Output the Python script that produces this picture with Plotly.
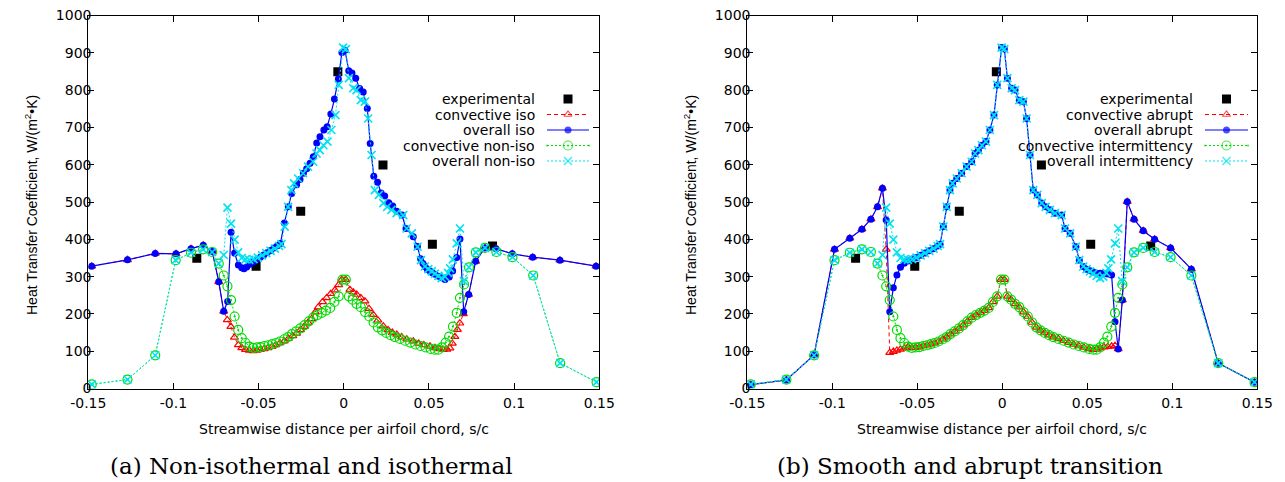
import plotly.graph_objects as go

# ---------------- data (s/c, W/(m^2 K)) ----------------
EXPERIMENTAL = [(-0.0863, 349), (-0.0515, 328), (-0.0253, 475), (-0.0035, 849),
                (0.0230, 599), (0.0520, 387), (0.0873, 382)]

ISO_CONVECTIVE = [(-0.148, 328), (-0.127, 345), (-0.1107, 362), (-0.0985, 361), (-0.0897, 375),
                  (-0.0825, 384), (-0.0772, 367), (-0.0734, 286), (-0.0705, 207), (-0.0684, 184),
                  (-0.0663, 166), (-0.0642, 137), (-0.0619, 117), (-0.0599, 109), (-0.0577, 104),
                  (-0.0555, 102), (-0.0532, 101), (-0.0510, 102), (-0.0490, 104), (-0.0468, 106),
                  (-0.0445, 109), (-0.0422, 112), (-0.0400, 117), (-0.0375, 122), (-0.0350, 127),
                  (-0.0325, 134), (-0.0300, 141), (-0.0277, 148), (-0.0255, 157), (-0.0232, 166),
                  (-0.0210, 177), (-0.0189, 187), (-0.0167, 205), (-0.0150, 218), (-0.0125, 232),
                  (-0.0101, 243), (-0.0077, 254), (-0.0052, 264), (-0.0030, 278), (-0.0012, 292),
                  (0.0011, 292), (0.0036, 265), (0.0056, 258), (0.0076, 252), (0.0100, 243),
                  (0.0124, 234), (0.0148, 214), (0.0173, 198), (0.0200, 183), (0.0232, 167),
                  (0.0260, 157), (0.0285, 150), (0.0311, 145), (0.0340, 138), (0.0370, 132),
                  (0.0408, 127), (0.0440, 121), (0.0470, 117), (0.0506, 113), (0.0535, 109),
                  (0.0560, 106), (0.0584, 104), (0.0605, 105), (0.0623, 108), (0.0637, 121),
                  (0.0652, 139), (0.0667, 158), (0.0681, 175), (0.0702, 200), (0.0733, 252),
                  (0.0774, 341), (0.0829, 377), (0.0894, 375), (0.0989, 361), (0.1109, 352),
                  (0.1269, 344), (0.1481, 328)]

ISO_OVERALL = [(-0.148, 328), (-0.127, 345), (-0.1107, 362), (-0.0985, 361), (-0.0897, 375),
               (-0.0825, 384), (-0.0772, 367), (-0.0734, 286), (-0.0705, 207), (-0.0682, 233),
               (-0.0662, 419), (-0.0641, 363), (-0.0619, 331), (-0.0599, 324), (-0.0586, 321),
               (-0.0570, 326), (-0.0550, 333), (-0.0530, 340), (-0.0510, 346), (-0.0490, 352),
               (-0.0470, 358), (-0.0450, 364), (-0.0430, 370), (-0.0410, 377), (-0.0390, 383),
               (-0.0372, 389), (-0.0349, 444), (-0.0326, 487), (-0.0306, 523), (-0.0277, 546),
               (-0.0257, 560), (-0.0237, 577), (-0.0218, 589), (-0.0198, 604), (-0.0179, 621),
               (-0.0159, 658), (-0.0140, 675), (-0.0117, 693), (-0.0098, 702), (-0.0076, 736),
               (-0.0055, 776), (-0.0032, 830), (-0.0011, 901), (0.0007, 907), (0.0029, 852),
               (0.0048, 846), (0.0070, 832), (0.0093, 804), (0.0114, 795), (0.0138, 751),
               (0.0155, 657), (0.0176, 569), (0.0198, 553), (0.0219, 524), (0.0240, 516),
               (0.0264, 498), (0.0287, 489), (0.0311, 475), (0.0342, 465), (0.0365, 429),
               (0.0408, 407), (0.0432, 381), (0.0451, 348), (0.0465, 335), (0.0477, 327),
               (0.0490, 320), (0.0506, 315), (0.0520, 310), (0.0535, 306), (0.0556, 301),
               (0.0575, 297), (0.0594, 292), (0.0619, 299), (0.0639, 315), (0.0663, 351),
               (0.0682, 401), (0.0704, 206), (0.0733, 252), (0.0774, 341), (0.0829, 377),
               (0.0894, 375), (0.0989, 361), (0.1109, 352), (0.1269, 344), (0.1481, 328)]

# smooth (intermittency) model -- same data drawn as "non-iso" in panel (a)
SMOOTH_CONVECTIVE = [(-0.148, 11), (-0.127, 24), (-0.1107, 89), (-0.0987, 344), (-0.0897, 364),
                     (-0.0826, 373), (-0.0773, 366), (-0.0734, 335), (-0.0705, 303), (-0.0683, 274),
                     (-0.0662, 237), (-0.0641, 193), (-0.0620, 157), (-0.0599, 135), (-0.0577, 122),
                     (-0.0555, 112), (-0.0532, 109), (-0.0510, 110), (-0.0488, 111), (-0.0465, 114),
                     (-0.0442, 116), (-0.0420, 119), (-0.0398, 122), (-0.0375, 126), (-0.0350, 132),
                     (-0.0328, 138), (-0.0305, 146), (-0.0280, 153), (-0.0255, 161), (-0.0230, 170),
                     (-0.0205, 180), (-0.0180, 190), (-0.0155, 197), (-0.0130, 203), (-0.0105, 209),
                     (-0.0080, 216), (-0.0055, 232), (-0.0030, 247), (-0.0008, 292), (0.0012, 292),
                     (0.0030, 247), (0.0052, 238), (0.0075, 227), (0.0100, 218), (0.0125, 205),
                     (0.0150, 193), (0.0175, 177), (0.0200, 164), (0.0225, 156), (0.0250, 149),
                     (0.0275, 143), (0.0300, 138), (0.0330, 133), (0.0360, 128), (0.0390, 123),
                     (0.0420, 118), (0.0450, 114), (0.0480, 110), (0.0510, 106), (0.0535, 104),
                     (0.0555, 104), (0.0575, 110), (0.0598, 123), (0.0618, 139), (0.0641, 166),
                     (0.0663, 203), (0.0682, 243), (0.0706, 279), (0.0735, 325), (0.0775, 365),
                     (0.0829, 377), (0.0896, 366), (0.0990, 352), (0.1112, 303), (0.1270, 68),
                     (0.1484, 17)]

SMOOTH_OVERALL = [(-0.148, 11), (-0.127, 24), (-0.1107, 89), (-0.0987, 344), (-0.0897, 364),
                  (-0.0826, 373), (-0.0773, 366), (-0.0734, 335), (-0.0705, 358), (-0.0683, 485),
                  (-0.0662, 442), (-0.0641, 399), (-0.0620, 365), (-0.0599, 350), (-0.0577, 346),
                  (-0.0555, 345), (-0.0530, 347), (-0.0505, 351), (-0.0480, 357), (-0.0455, 363),
                  (-0.0430, 369), (-0.0405, 375), (-0.0380, 382), (-0.0366, 387), (-0.0347, 434),
                  (-0.0327, 487), (-0.0308, 532), (-0.0292, 550), (-0.0268, 563), (-0.0239, 577),
                  (-0.0210, 595), (-0.0180, 608), (-0.0160, 630), (-0.0141, 639), (-0.0120, 652),
                  (-0.0096, 662), (-0.0073, 693), (-0.0049, 733), (-0.0030, 814), (-0.0004, 914),
                  (0.0012, 910), (0.0030, 832), (0.0055, 805), (0.0075, 800), (0.0100, 773),
                  (0.0124, 769), (0.0143, 724), (0.0163, 626), (0.0182, 532), (0.0206, 519),
                  (0.0232, 497), (0.0255, 487), (0.0280, 479), (0.0310, 470), (0.0349, 465),
                  (0.0369, 429), (0.0399, 416), (0.0433, 380), (0.0453, 344), (0.0476, 327),
                  (0.0496, 320), (0.0516, 314), (0.0535, 308), (0.0555, 302), (0.0575, 296),
                  (0.0594, 300), (0.0612, 310), (0.0624, 322), (0.0640, 346), (0.0663, 389),
                  (0.0682, 429), (0.0705, 288), (0.0735, 325), (0.0775, 365), (0.0829, 377),
                  (0.0896, 366), (0.0990, 352), (0.1112, 303), (0.1270, 68), (0.1484, 17)]

ABRUPT_CONVECTIVE = [(-0.148, 10), (-0.127, 23), (-0.1107, 90), (-0.0987, 373), (-0.0897, 403),
                     (-0.0826, 427), (-0.0773, 454), (-0.0734, 487), (-0.0705, 537), (-0.0683, 373),
                     (-0.0662, 96), (-0.0641, 99), (-0.0620, 102), (-0.0599, 105), (-0.0577, 108),
                     (-0.0555, 111), (-0.0532, 109), (-0.0510, 110), (-0.0488, 111), (-0.0465, 114),
                     (-0.0442, 116), (-0.0420, 119), (-0.0398, 122), (-0.0375, 126), (-0.0350, 132),
                     (-0.0328, 138), (-0.0305, 146), (-0.0280, 153), (-0.0255, 161), (-0.0230, 170),
                     (-0.0205, 180), (-0.0180, 190), (-0.0155, 197), (-0.0130, 203), (-0.0105, 209),
                     (-0.0080, 216), (-0.0055, 232), (-0.0030, 247), (-0.0008, 292), (0.0012, 292),
                     (0.0030, 247), (0.0052, 238), (0.0075, 227), (0.0100, 218), (0.0125, 205),
                     (0.0150, 193), (0.0175, 177), (0.0200, 164), (0.0225, 156), (0.0250, 149),
                     (0.0275, 143), (0.0300, 138), (0.0330, 133), (0.0360, 128), (0.0390, 123),
                     (0.0420, 118), (0.0450, 114), (0.0480, 110), (0.0510, 106), (0.0535, 104),
                     (0.0555, 105), (0.0577, 108), (0.0598, 111), (0.0620, 112), (0.0643, 113),
                     (0.0663, 115), (0.0682, 106), (0.0706, 237), (0.0735, 501), (0.0775, 454),
                     (0.0829, 423), (0.0896, 400), (0.0990, 377), (0.1112, 320), (0.1270, 68),
                     (0.1484, 17)]

ABRUPT_OVERALL = [(-0.148, 10), (-0.127, 23), (-0.1107, 90), (-0.0987, 373), (-0.0897, 403),
                  (-0.0826, 427), (-0.0773, 454), (-0.0734, 487), (-0.0705, 537), (-0.0683, 452),
                  (-0.0662, 206), (-0.0641, 270), (-0.0620, 304), (-0.0599, 325), (-0.0577, 336),
                  (-0.0555, 342), (-0.0530, 347), (-0.0505, 351), (-0.0480, 357), (-0.0455, 363),
                  (-0.0430, 369), (-0.0405, 375), (-0.0380, 382), (-0.0366, 387), (-0.0347, 434),
                  (-0.0327, 487), (-0.0308, 532), (-0.0292, 550), (-0.0268, 563), (-0.0239, 577),
                  (-0.0210, 595), (-0.0180, 608), (-0.0160, 630), (-0.0141, 639), (-0.0120, 652),
                  (-0.0096, 662), (-0.0073, 693), (-0.0049, 733), (-0.0030, 814), (-0.0004, 914),
                  (0.0012, 910), (0.0030, 832), (0.0055, 805), (0.0075, 800), (0.0100, 773),
                  (0.0124, 769), (0.0143, 724), (0.0163, 626), (0.0182, 532), (0.0206, 519),
                  (0.0232, 497), (0.0255, 487), (0.0280, 479), (0.0310, 470), (0.0349, 465),
                  (0.0369, 429), (0.0399, 416), (0.0433, 380), (0.0453, 344), (0.0476, 327),
                  (0.0496, 320), (0.0516, 316), (0.0535, 312), (0.0555, 309), (0.0575, 309),
                  (0.0594, 309), (0.0620, 307), (0.0643, 304), (0.0663, 179), (0.0682, 106),
                  (0.0706, 237), (0.0735, 501), (0.0775, 454), (0.0829, 423), (0.0896, 400),
                  (0.0990, 377), (0.1112, 320), (0.1270, 68), (0.1484, 17)]

X_TICKS = [-0.15, -0.1, -0.05, 0, 0.05, 0.1, 0.15]
X_TICK_TEXT = ["-0.15", "-0.1", "-0.05", "0", "0.05", "0.1", "0.15"]
Y_TICKS = [0, 100, 200, 300, 400, 500, 600, 700, 800, 900, 1000]

LEGEND_A = ["experimental", "convective iso", "overall iso", "convective non-iso", "overall non-iso"]
LEGEND_B = ["experimental", "convective abrupt", "overall abrupt", "convective intermittency",
            "overall intermittency"]

# ---------------- styles ----------------
RED, BLUE, GREEN, CYAN = "#ff0000", "#0000ff", "#00dd00", "#00e2f0"
STYLES = [
    dict(mode="markers", marker=dict(symbol="square", size=9, color="black")),
    dict(mode="lines+markers", line=dict(color=RED, width=1, dash="4px,3px"),
         marker=dict(symbol="triangle-up-open", size=7, color=RED, line=dict(width=1.2, color=RED))),
    dict(mode="lines+markers", line=dict(color=BLUE, width=1.2),
         marker=dict(symbol="circle", size=7, color=BLUE, line=dict(width=0))),
    dict(mode="lines+markers", line=dict(color=GREEN, width=1, dash="2px,2px"),
         marker=dict(symbol="circle-open-dot", size=9, color=GREEN, line=dict(width=1.2, color=GREEN))),
    dict(mode="lines+markers", line=dict(color=CYAN, width=1, dash="2px,2px"),
         marker=dict(symbol="x-thin", size=8, color=CYAN, line=dict(width=1.6, color=CYAN))),
]

WIDE = "DejaVu Sans, Verdana, sans-serif"
NARROW = "Liberation Sans, Arial, sans-serif"
SERIF = "DejaVu Serif, serif"
W, H = 1285, 482

fig = go.Figure()


def add_series(series, style, xa, ya, name):
    s, h = zip(*series)
    fig.add_trace(go.Scatter(x=list(s), y=list(h), xaxis=xa, yaxis=ya, name=name,
                             showlegend=False, hoverinfo="x+y+name", **style))


panel_a = [EXPERIMENTAL, ISO_CONVECTIVE, ISO_OVERALL, SMOOTH_CONVECTIVE, SMOOTH_OVERALL]
panel_b = [EXPERIMENTAL, ABRUPT_CONVECTIVE, ABRUPT_OVERALL, SMOOTH_CONVECTIVE, SMOOTH_OVERALL]
for ser, st, nm in zip(panel_a, STYLES, LEGEND_A):
    add_series(ser, st, "x", "y", nm)
for ser, st, nm in zip(panel_b, STYLES, LEGEND_B):
    add_series(ser, st, "x2", "y2", nm)

# ---------------- gnuplot-style keys (pixel overlay axis) ----------------
row_y = [99, 114.5, 130, 145.5, 161]
keys = [(LEGEND_A, 537, 547, 589), (LEGEND_B, 1195, 1205, 1248)]
annotations = []
for labels, tx, x0, x1 in keys:
    xm = (x0 + x1) / 2
    for i, (lab, st) in enumerate(zip(labels, STYLES)):
        y = row_y[i]
        annotations.append(dict(x=tx, y=y, xref="x3", yref="y3", text=lab, showarrow=False,
                                xanchor="right", yanchor="middle",
                                font=dict(family=WIDE, size=14, color="black")))
        sty = dict(st)
        if i == 0:
            fig.add_trace(go.Scatter(x=[xm], y=[y], xaxis="x3", yaxis="y3", showlegend=False,
                                     hoverinfo="skip", **sty))
        else:
            mk = dict(sty["marker"])
            mk["size"] = [0, mk["size"], 0]
            sty["marker"] = mk
            fig.add_trace(go.Scatter(x=[x0, xm, x1], y=[y, y, y], xaxis="x3", yaxis="y3",
                                     showlegend=False, hoverinfo="skip", **sty))

# ---------------- axes ----------------
ydom = [(H - 388.5) / H, (H - 15.5) / H]
xdomA = [88.3 / W, 599.3 / W]
xdomB = [747.3 / W, 1257.3 / W]

common_x = dict(range=[-0.15, 0.15], tickvals=X_TICKS, ticktext=X_TICK_TEXT, ticks="inside",
                ticklen=6, tickwidth=1, tickcolor="black", mirror="ticks", showline=True,
                linecolor="black", linewidth=1, showgrid=False, zeroline=False, automargin=False,
                ticklabelstandoff=2,
                tickfont=dict(family=WIDE, size=14, color="black"))
common_y = dict(range=[0, 1000], tickvals=Y_TICKS, ticks="inside", ticklen=6, tickwidth=1,
                tickcolor="black", mirror="ticks", showline=True, linecolor="black", linewidth=1,
                showgrid=False, zeroline=False, automargin=False,
                tickfont=dict(family=WIDE, size=14, color="black"))

fig.update_layout(
    width=W, height=H, margin=dict(l=0, r=0, t=0, b=0, autoexpand=False),
    paper_bgcolor="white", plot_bgcolor="rgba(0,0,0,0)",
    xaxis=dict(domain=xdomA, anchor="y", **common_x),
    yaxis=dict(domain=ydom, anchor="x", **common_y),
    xaxis2=dict(domain=xdomB, anchor="y2", **common_x),
    yaxis2=dict(domain=ydom, anchor="x2", **common_y),
    xaxis3=dict(domain=[0, 1], range=[0, W], visible=False, showticklabels=False,
                fixedrange=True, anchor="y3", automargin=False),
    yaxis3=dict(domain=[0, 1], range=[H, 0], visible=False, showticklabels=False,
                fixedrange=True, anchor="x3", automargin=False),
)
# pull the y tick labels closer to the axis, as gnuplot does
try:
    fig.update_layout(yaxis_ticklabelstandoff=-7, yaxis2_ticklabelstandoff=-7)
except ValueError:
    pass

ytitle = "Heat Transfer Coefficient, W/(m<sup>2</sup>•K)"
xtitle = "Streamwise distance per airfoil chord, s/c"
panels = [((xdomA[0] + xdomA[1]) / 2, 311 / W, 31 / W, "(a) Non-isothermal and isothermal"),
          ((xdomB[0] + xdomB[1]) / 2, 970 / W, 690 / W, "(b) Smooth and abrupt transition")]
for cx, capx, ylab_x, cap in panels:
    annotations.append(dict(x=cx, y=1 - 429 / H, xref="paper", yref="paper", text=xtitle,
                            showarrow=False, xanchor="center", yanchor="middle",
                            font=dict(family=WIDE, size=14, color="black")))
    annotations.append(dict(x=ylab_x, y=1 - 205 / H, xref="paper", yref="paper", text=ytitle,
                            showarrow=False, xanchor="center", yanchor="middle", textangle=-90,
                            font=dict(family=NARROW, size=14, color="black")))
    annotations.append(dict(x=capx, y=1 - 466 / H, xref="paper", yref="paper", text=cap,
                            showarrow=False, xanchor="center", yanchor="middle",
                            font=dict(family=SERIF, size=23, color="black")))

fig.update_layout(annotations=annotations)
fig.write_html("out.html", config={"displayModeBar": False},
               post_script="document.body.style.margin='0px';document.body.style.overflow='hidden';")
